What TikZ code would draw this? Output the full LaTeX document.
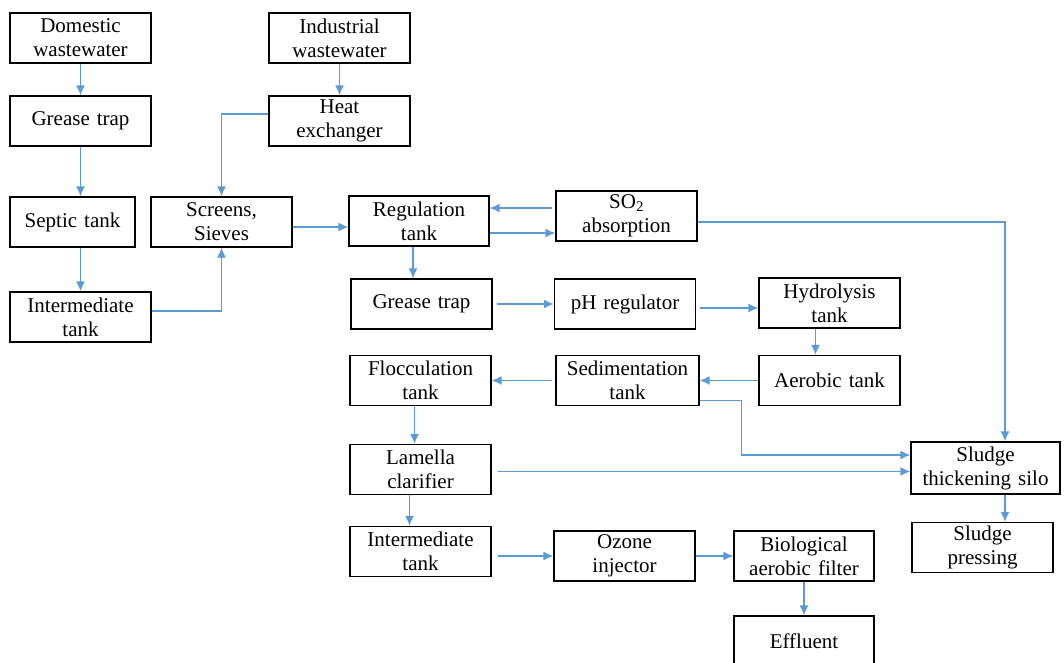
\documentclass[tikz,border=0pt]{standalone}
\usepackage{fontspec}
\setmainfont{Liberation Serif}
\usepackage{tikz}
\usetikzlibrary{arrows.meta}
\definecolor{flowblue}{RGB}{91,155,213}

\begin{document}
\begin{tikzpicture}[x=1pt,y=-1pt
	,font=\fontsize{21}{24}\selectfont]
  \tikzstyle{box}
  =[draw=black,line width=1.4pt
  ,minimum width=141pt,minimum height=50pt
  ,text width=135pt,align=center,inner sep=0pt]
  \tikzstyle{pipe}
  =[draw,color=flowblue,line width=1.4pt
  ,-{Latex[length=10pt,width=9pt]}]

  \useasboundingbox (0,0) rectangle (1064,662);

  % domestic line
  \node[box](dw)  at (80.5,38)  {Domestic\\wastewater};
  \node[box](gt1) at (80.5,121) {Grease trap};
  \node[box,minimum width=125pt,text width=119pt](st) at (72.5,222) {Septic tank};
  \node[box](it1) at (80.5,317) {Intermediate\\tank};
  % industrial line
  \node[box](iw)  at (339.5,38)  {Industrial\\wastewater};
  \node[box](he)  at (339.5,121) {Heat\\exchanger};
  \node[box](sv)  at (221.5,222) {Screens,\\Sieves};
  % main column
  \node[box,minimum width=140pt](rt) at (419,221) {Regulation\\tank};
  \node[box](gt2) at (421.5,304)   {Grease trap};
  \node[box](fl)  at (420.5,380.5) {Flocculation\\tank};
  \node[box](lc)  at (420.5,469.5) {Lamella\\clarifier};
  \node[box](it2) at (420.5,551.5) {Intermediate\\tank};
  % second column
  \node[box](so)  at (626.5,216)   {SO\textsubscript{2}\\absorption};
  \node[box](ph)  at (625,304)     {pH regulator};
  \node[box,minimum width=143pt](se) at (627.5,380.5) {Sedimentation\\tank};
  \node[box](oz)  at (624.5,556)   {Ozone\\injector};
  % third column
  \node[box](hy)  at (829.5,303)   {Hydrolysis\\tank};
  \node[box](ae)  at (829.5,380.5) {Aerobic tank};
  \node[box,minimum width=140pt](bf) at (804,556) {Biological\\aerobic filter};
  \node[box,minimum width=140pt](ef) at (804,641) {Effluent};
  % sludge
  \node[box,minimum width=149pt,minimum height=52pt](sl) at (985.5,468) {Sludge\\thickening silo};
  \node[box](sp)  at (982.5,547.5) {Sludge\\pressing};

  % verticals
  \path[pipe] (dw) edge node {} (gt1);
  \draw[pipe] (gt1.south) -- (gt1.south |- st.north);
  \draw[pipe] (it1.north |- st.south) -- (it1.north);
  \path[pipe] (iw) edge node {} (he);
  \draw[pipe] ([xshift=-6pt]rt.south) -- ([xshift=-6pt]rt.south |- gt2.north);
  \draw[pipe] ([xshift=-14pt]hy.south) -- ([xshift=-14pt]hy.south |- ae.north);
  \draw[pipe] ([xshift=-6pt]fl.south) -- ([xshift=-6pt]fl.south |- lc.north);
  \draw[pipe] ([xshift=-11pt]lc.south) -- ([xshift=-11pt]lc.south |- it2.north);
  \path[pipe] (bf) edge node {} (ef);
  \draw[pipe] ([xshift=19.5pt]sl.south) -- ([xshift=19.5pt]sl.south |- sp.north);
  % horizontals
  \draw[pipe] ([yshift=-5pt]sv.east) -- ([yshift=-5pt]sv.east -| rt.west);
  \draw[pipe,shorten <=3pt] ([yshift=8pt]so.west) -- ([yshift=8pt]so.west -| rt.east);
  \draw[pipe] ([yshift=-12pt]rt.east) -- ([yshift=-12pt]rt.east -| so.west);
  \path[pipe,shorten <=4pt] (gt2) edge node {} (ph);
  \draw[pipe,shorten <=4pt] ([yshift=-4pt]ph.east) -- ([yshift=-5pt]hy.west);
  \path[pipe] (ae) edge node {} (se);
  \path[pipe,shorten <=3pt] (se) edge node {} (fl);
  \draw[pipe,shorten <=6pt] ([yshift=-2pt]lc.east) -- ([yshift=-2pt]lc.east -| sl.west);
  \draw[pipe,shorten <=6pt] (it2.east |- oz.west) -- (oz.west);
  \path[pipe] (oz) edge node {} (bf);
  % elbows
  \draw[pipe] ([yshift=6pt]it1.east) -| (sv.south);
  \draw[pipe] ([yshift=7pt]he.west) -| (sv.north);
  \draw[pipe] ([yshift=-6pt]so.east) -| ([xshift=19.5pt]sl.north);
  \draw[pipe] ([yshift=-20pt]se.east) -- ++(42,0) |- ([yshift=13pt]sl.west);

\end{tikzpicture}
\end{document}
